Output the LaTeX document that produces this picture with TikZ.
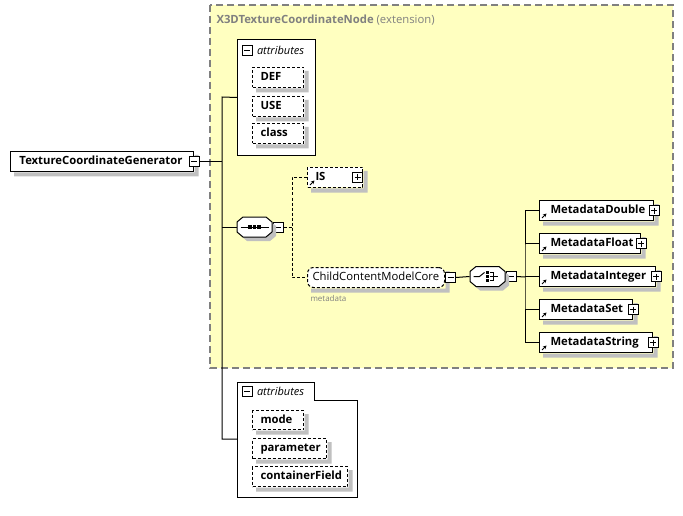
\documentclass[tikz,border=0pt]{standalone}
\usepackage{fontspec}
\setmainfont{Open Sans}
\usetikzlibrary{arrows.meta,positioning}
\definecolor{extyellow}{RGB}{255,255,192}
\definecolor{extgrey}{RGB}{128,128,128}
\definecolor{shadowgrey}{RGB}{192,192,192}
% grey L-shaped shadow at the lower right of a node
\newcommand{\nodeshadow}[1]{%
  \fill[shadowgrey] ([shift={(0.5pt,-4pt)}]#1.north east) -- ([shift={(4.5pt,-4pt)}]#1.north east)
    -- ([shift={(4.5pt,-4.5pt)}]#1.south east) -- ([shift={(4pt,-4.5pt)}]#1.south west)
    -- ([shift={(4pt,-0.5pt)}]#1.south west) -- ([shift={(0.5pt,-0.5pt)}]#1.south east) -- cycle;}
\tikzset{
  elem/.style={draw, fill=white, anchor=north west, align=left, minimum height=20pt,
    inner xsep=9pt, inner ysep=0pt, text height=8.5pt, text depth=2.5pt,
    font=\fontsize{11.3}{13}\selectfont\bfseries},
  attr/.style={elem, dash pattern=on 3pt off 2pt, inner xsep=8pt},
  ref/.style={elem, inner xsep=11pt},
  isref/.style={ref, dash pattern=on 3pt off 2pt, inner xsep=8pt},
  hdr/.style={font=\fontsize{11}{13}\selectfont\itshape, inner sep=0pt},
  toggle/.style={draw, solid, fill=white, minimum size=10pt, inner sep=0pt},
  plus/.style={toggle, path picture={
      \draw ([xshift=2pt]path picture bounding box.west) -- ([xshift=-2pt]path picture bounding box.east);
      \draw ([yshift=-2pt]path picture bounding box.north) -- ([yshift=2pt]path picture bounding box.south);}},
  minus/.style={toggle, path picture={
      \draw ([xshift=2pt]path picture bounding box.west) -- ([xshift=-2pt]path picture bounding box.east);}},
  compositor/.style={minimum width=35pt, minimum height=20pt, inner sep=0pt},
  octa/.style={draw, fill=white, preaction={fill=shadowgrey, draw=none, transform canvas={shift={(4pt,-4pt)}}}},
  dashline/.style={dash pattern=on 3pt off 2pt},
  refarrow/.style={-{Stealth[length=3.5pt,width=3.5pt]}, line width=1pt, solid}
}

\begin{document}
\begin{tikzpicture}[x=1pt,y=-1pt,line width=1pt]
\useasboundingbox (0,0) rectangle (683,516);

% extension group
\draw[extgrey, fill=extyellow, line width=1.3pt, dash pattern=on 7pt off 4pt] (210,5) rectangle (673,368);
\node[anchor=west, inner sep=0pt, text=extgrey, font=\fontsize{11.3}{13}\selectfont] (exttitle) at (216,20)
  {\textbf{X3DTextureCoordinateNode} (extension)};

% main element
\node[elem, text width=165pt] (gen) at (10,151) {TextureCoordinateGenerator};
\nodeshadow{gen}
\node[minus] (genm) at (gen.east) {};

\coordinate (jt) at (222,97);
\coordinate (jb) at (222,439);

% inherited attributes
\node[draw, fill=white, anchor=north west, minimum width=78pt, minimum height=116pt] (att1) at (237,39) {};
\node[minus] (att1m) at (247,50.5) {};
\node[hdr, right=4pt of att1m] (att1h) {attributes};
\node[attr, text width=35pt] (def) at (252,67) {DEF};
\nodeshadow{def}
\node[attr, text width=35pt] (use) at (252,96) {USE};
\nodeshadow{use}
\node[attr, text width=35pt] (class) at (252,123) {class};
\nodeshadow{class}

% sequence
\node[compositor] (seq) at (254.5,227) {};
\node[minus, anchor=west] (seqm) at (seq.east) {};
\begin{scope}[shift={(seq.center)}]
  \draw[octa] (-11.5,-10) -- (11.5,-10) -- (17.5,-5) -- (17.5,5) -- (11.5,10)
    -- (-11.5,10) -- (-17.5,5) -- (-17.5,-5) -- cycle;
  \draw (-14,0) -- (14,0);
  \foreach \dx in {-4.5,0,4.5}
    \fill (\dx-1.6,-1.6) rectangle (\dx+1.6,1.6);
\end{scope}

\node[isref, text width=39pt] (is) at (307,167) {IS};
\nodeshadow{is}
\node[plus, anchor=east] (isp) at (is.east) {};
\draw[refarrow] ([shift={(3,-3)}]is.south west) -- ++(4.5,-4.5);

\node[elem, rounded corners=6pt, dash pattern=on 3pt off 2pt, inner xsep=5pt, text width=127pt,
  font=\fontsize{11.3}{13}\selectfont] (ccm) at (307,267) {ChildContentModelCore};
\nodeshadow{ccm}
\node[minus, anchor=west] (ccmm) at (ccm.east) {};
\node[anchor=west, inner sep=0pt, text=extgrey, font=\fontsize{8}{9}\selectfont] (ccmnote) at (310,298) {metadata};

% choice
\node[compositor] (cho) at (487.5,276.5) {};
\node[minus, anchor=west] (chom) at (cho.east) {};
\begin{scope}[shift={(cho.center)}]
  \draw[octa] (-11.5,-10) -- (11.5,-10) -- (17.5,-5) -- (17.5,5) -- (11.5,10)
    -- (-11.5,10) -- (-17.5,5) -- (-17.5,-5) -- cycle;
  \draw (-14,0) -- (-8,0) -- (-3,-4);
  \foreach \dy in {-4,0,4}
    \fill (-1.4,\dy-1.4) rectangle (1.4,\dy+1.4);
  \draw (2.5,-4) -- (6,-4) -- (6,4) -- (2.5,4);
  \draw (2.5,0) -- (10,0);
\end{scope}

\node[ref, text width=92pt] (md1) at (539,200) {MetadataDouble};
\node[ref, text width=79pt] (md2) at (539,233) {MetadataFloat};
\node[ref, text width=94pt] (md3) at (539,266) {MetadataInteger};
\node[ref, text width=71pt] (md4) at (539,299) {MetadataSet};
\node[ref, text width=91pt] (md5) at (539,332) {MetadataString};
\foreach \m in {md1,md2,md3,md4,md5} {
  \nodeshadow{\m}
  \node[plus] (\m p) at (\m.east) {};
  \draw[refarrow] ([shift={(3,-3)}]\m.south west) -- ++(4.5,-4.5);
}

% own attributes
\draw[fill=white] (237,382) -- (314,382) -- (314,400) -- (357,400) -- (357,497) -- (237,497) -- cycle;
\coordinate (att2w) at (237,439);
\node[minus] (att2m) at (247,391.5) {};
\node[hdr, right=4pt of att2m] (att2h) {attributes};
\node[attr, text width=35pt, minimum height=19pt] (mode) at (252,410) {mode};
\nodeshadow{mode}
\node[attr, text width=58pt] (param) at (252,438) {parameter};
\nodeshadow{param}
\node[attr, text width=79pt] (cfield) at (252,466) {containerField};
\nodeshadow{cfield}

% connectors
\draw (genm.east) -- (genm.east -| jt);
\draw (att1.west) -- (jt) -- (jb) -- (att2w);
\draw (seq.west) -- (seq.west -| jt);
\coordinate (sx) at (292,227);
\draw[dashline] (seqm.east) -- (sx);
\draw[dashline] (is.west) -| (sx) |- (ccm.west);
\draw (ccmm.east) -- (cho.west);
\coordinate (cx) at (525,277);
\draw (chom.east) -- (cx);
\draw (md1.west) -| (cx) |- (md5.west);
\foreach \m in {md2,md3,md4}
  \draw (\m.west) -- (\m.west -| cx);
\end{tikzpicture}
\end{document}
